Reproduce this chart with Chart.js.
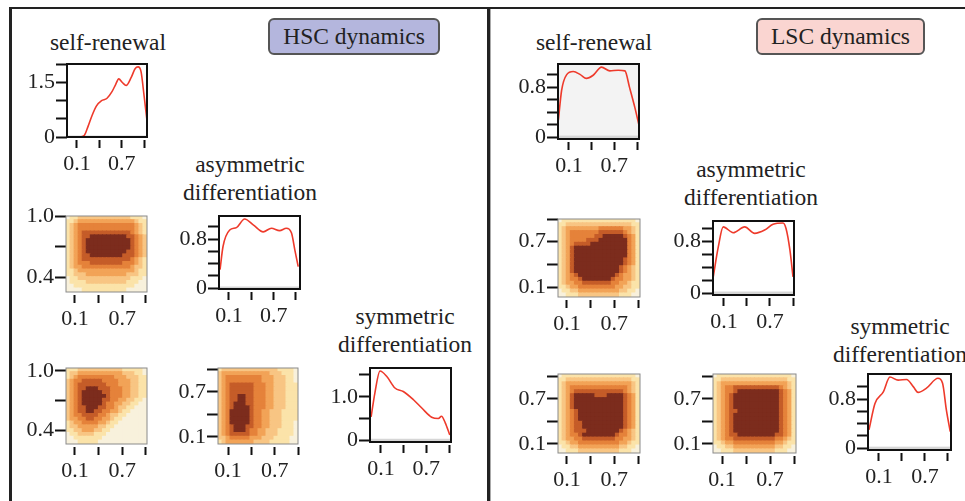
<!DOCTYPE html>
<html>
<head>
  <title>HSC / LSC dynamics</title>
  <script src="https://cdn.jsdelivr.net/npm/chart.js"></script>
  <style>
    body { margin: 0; background: #fff; }
    #page { position: relative; width: 965px; height: 501px; overflow: hidden; font-family: "Liberation Serif", "Times New Roman", serif; color: #222; }
    #page canvas { position: absolute; }
    .t { position: absolute; width: 240px; text-align: center; font-size: 23.5px; line-height: 28px; white-space: nowrap; }
    .tag { position: absolute; box-sizing: border-box; border: 2px solid #555; border-radius: 6px; font-size: 23.5px; text-align: center; line-height: 33px; }
    .rule { position: absolute; background: #222; }
  </style>
</head>
<body>
  <div id="page">
    <div class="rule" style="left:9px;top:7px;width:956px;height:2px"></div>
    <div class="rule" style="left:9px;top:7px;width:3px;height:494px"></div>
    <div class="rule" style="left:487px;top:7px;width:3px;height:494px"></div>
    <div class="rule" style="left:490px;top:9px;width:1px;height:492px;background:#aaa"></div>

    <div class="tag" style="left:268px;top:18px;width:172px;height:37px;background:#b4b6dd">HSC dynamics</div>
    <div class="tag" style="left:756px;top:18px;width:169px;height:37px;background:#fad5d1">LSC dynamics</div>

    <div class="t" style="left:-12px;top:28px">self-renewal</div>
    <div class="t" style="left:130px;top:150px">asymmetric<br>differentiation</div>
    <div class="t" style="left:285px;top:302px">symmetric<br>differentiation</div>
    <div class="t" style="left:474px;top:28px">self-renewal</div>
    <div class="t" style="left:631px;top:155px">asymmetric<br>differentiation</div>
    <div class="t" style="left:780px;top:312px">symmetric<br>differentiation</div>
  </div>

  <script>
    // density curves (diagonal panels)
    const hscSelfX = [0.14, 0.2, 0.25, 0.3, 0.36, 0.43, 0.5, 0.57, 0.62, 0.66, 0.71, 0.76, 0.83, 0.88, 0.92, 0.96, 1.0, 1.04];
    const hscSelfY = [0.0, 0.05, 0.3, 0.58, 0.85, 1.0, 1.06, 1.25, 1.45, 1.6, 1.5, 1.42, 1.65, 1.88, 1.93, 1.8, 1.15, 0.45];
    const hscAsymX = [-0.02, 0.02, 0.11, 0.2, 0.31, 0.43, 0.56, 0.67, 0.78, 0.87, 0.94, 0.985, 1.03];
    const hscAsymY = [0.3, 0.68, 0.95, 0.99, 1.13, 1.03, 0.92, 0.98, 0.94, 0.98, 0.9, 0.62, 0.35];
    const hscSymX = [-0.03, 0.02, 0.087, 0.175, 0.285, 0.395, 0.53, 0.64, 0.77, 0.86, 0.9, 0.95, 1.01];
    const hscSymY = [0.54, 1.09, 1.59, 1.47, 1.2, 1.12, 0.93, 0.74, 0.53, 0.5, 0.55, 0.4, 0.12];

    const lscSelfX = [-0.04, 0.003, 0.07, 0.157, 0.25, 0.33, 0.42, 0.53, 0.64, 0.75, 0.84, 0.9, 0.97, 1.026];
    const lscSelfY = [0.27, 0.75, 1.0, 1.05, 1.0, 0.94, 0.99, 1.12, 1.06, 1.07, 1.06, 0.8, 0.48, 0.19];
    const lscAsymX = [-0.04, 0.026, 0.09, 0.22, 0.37, 0.5, 0.63, 0.74, 0.87, 0.91, 0.96, 1.0];
    const lscAsymY = [0.25, 0.71, 1.02, 0.93, 1.02, 0.92, 0.97, 1.06, 1.08, 0.99, 0.66, 0.25];
    const lscSymX = [-0.03, 0.048, 0.157, 0.243, 0.35, 0.46, 0.55, 0.61, 0.72, 0.87, 0.93, 0.98, 1.03];
    const lscSymY = [0.3, 0.73, 0.92, 1.16, 1.11, 1.12, 1.0, 0.91, 0.98, 1.14, 1.06, 0.62, 0.27];

    // joint densities, contour level 0..6 per cell, top row first
    const hscSelfAsym = [
      "01122222222222221110",
      "11233333333333333211",
      "12344444444444444321",
      "12344444444444444321",
      "12345555555555554321",
      "12345566666666655432",
      "12345666666666665432",
      "12345666666666665432",
      "12345666666666665432",
      "12345666666666655432",
      "12345566666666555432",
      "12345555555555554321",
      "12344455555555444321",
      "12334444444444443221",
      "11233333333333333211",
      "11222333333333322211",
      "01122222222222221110",
      "01111222222222211100",
      "00111111111111111000",
      "00001111111111100000"
    ];
    const hscSelfSym = [
      "11122222222222111110",
      "12233333333333222110",
      "12344444444433322211",
      "23445555544443332211",
      "23455555554443332211",
      "23455666555444332211",
      "23456666655444332211",
      "23456666665444332211",
      "23456666655443322110",
      "23456666654433221100",
      "23455666554432211000",
      "23455665544332110000",
      "23445555443221100000",
      "23344554433211000000",
      "12334444332110000000",
      "12233333221100000000",
      "11223332211000000000",
      "01122221110000000000",
      "00111111100000000000",
      "00011111000000000000"
    ];
    const hscAsymSym = [
      "12222222222222211110",
      "23333333333332221110",
      "23444444444333222110",
      "23444444444333222110",
      "23455555544433222111",
      "23455555544433222111",
      "23455555544433222111",
      "23455665544433222111",
      "23455665544433222111",
      "23456665544433222111",
      "23456666544433222111",
      "23466666544332221111",
      "23466666544332221111",
      "23466666544332221111",
      "23466666544332221110",
      "23456665544332221110",
      "23456665443322211110",
      "23455555443322211110",
      "22344444333222111100",
      "12333333322221111100"
    ];
    const lscSelfAsym = [
      "01111111111111111110",
      "11222222222222222211",
      "12333333334444443321",
      "12344444445555554321",
      "12344444455666665431",
      "12344445556666666431",
      "12345555666666666431",
      "12356666666666666431",
      "12356666666666666431",
      "12356666666666666431",
      "12356666666666665431",
      "12356666666666665431",
      "12356666666666654321",
      "12356666666666654321",
      "12345666666666543321",
      "12344566666665443321",
      "12334455555554433211",
      "11233444444444332211",
      "01122333333333322110",
      "00111222222222211100"
    ];
    const lscSelfSym = [
      "01111111111111111110",
      "11222222222222222211",
      "12333333333333333321",
      "12344444444444444321",
      "12345555555555554321",
      "12356666655566665431",
      "12356666666666665431",
      "12356666666666665431",
      "12356666666666665431",
      "12345666666666665431",
      "12345666666666665431",
      "12345666666666665431",
      "12345566666666665431",
      "12345566666666665431",
      "12345556666666654321",
      "12344566666666544321",
      "12334455555555443321",
      "11233444444444433211",
      "01122333333333322110",
      "00111222222222211100"
    ];
    const lscAsymSym = [
      "01111111111111111110",
      "11222222222222222211",
      "12333333333333333321",
      "12344555555555554321",
      "12344566666666665431",
      "12345666666666665431",
      "12345666666666665431",
      "12345666666666665431",
      "12345666666666665431",
      "12345566666666665431",
      "12345666666666665431",
      "12345666666666665431",
      "12345666666666665431",
      "12345666666666665431",
      "12345666666666665431",
      "12345566666666655431",
      "12344555555555544321",
      "11233444444444433211",
      "01122333333333322110",
      "00111222222222211100"
    ];
    const levelColors = ['#f8f1dc', '#fbe3a9', '#f8c583', '#f2a357', '#e5823a', '#c55c28', '#7c2c1d'];

    // tick values and labels
    const xTickVals = [0.1, 0.4, 0.7, 1.0];
    const xTickLabels = ['0.1', '', '0.7', ''];
    const yTicksFine = [0, 0.2, 0.4, 0.6, 0.8, 1.0];
    const yLabelsFine = ['0', '', '', '', '0.8', ''];
    const yTicksSelfHsc = [0, 0.5, 1.0, 1.5, 2.0];
    const yLabelsSelfHsc = ['0', '', '', '1.5', ''];
    const yTicksSymHsc = [0, 0.5, 1.0, 1.5];
    const yLabelsSymHsc = ['0', '', '1.0', ''];
    const yTicksHigh = [0.4, 0.7, 1.0];
    const yLabelsHigh = ['0.4', '', '1.0'];
    const yTicksFull = [0.1, 0.4, 0.7, 1.0];
    const yLabelsFull = ['0.1', '', '0.7', ''];

    const plots = [
      { kind: 'line', box: [67, 64, 80, 73], x: [-0.034, 1.04], y: [0, 2.01], xs: hscSelfX, ys: hscSelfY, yt: yTicksSelfHsc, yl: yLabelsSelfHsc },
      { kind: 'heat', box: [66, 216, 81, 76], x: [-0.014, 1.013], y: [0.26, 1.0], grid: hscSelfAsym, yt: yTicksHigh, yl: yLabelsHigh },
      { kind: 'line', box: [219, 216, 81, 73], x: [-0.034, 1.054], y: [-0.016, 1.18], xs: hscAsymX, ys: hscAsymY, yt: yTicksFine, yl: yLabelsFine },
      { kind: 'heat', box: [66, 368, 81, 76], x: [-0.014, 1.013], y: [0.26, 1.03], grid: hscSelfSym, yt: yTicksHigh, yl: yLabelsHigh },
      { kind: 'heat', box: [218, 368, 80, 76], x: [-0.03, 1.0], y: [0.005, 1.02], grid: hscAsymSym, yt: yTicksFull, yl: yLabelsFull },
      { kind: 'line', box: [370, 368, 81, 74], x: [-0.045, 1.026], y: [-0.04, 1.66], xs: hscSymX, ys: hscSymY, yt: yTicksSymHsc, yl: yLabelsSymHsc },

      { kind: 'line', box: [558, 64, 81, 75], x: [-0.045, 1.026], y: [-0.03, 1.17], xs: lscSelfX, ys: lscSelfY, yt: yTicksFine, yl: yLabelsFine, fill: '#f3f3f3' },
      { kind: 'heat', box: [558, 219, 82, 78], x: [-0.014, 1.025], y: [-0.03, 1.0], grid: lscSelfAsym, yt: yTicksFull, yl: yLabelsFull },
      { kind: 'line', box: [713, 221, 81, 74], x: [-0.043, 1.013], y: [-0.03, 1.11], xs: lscAsymX, ys: lscAsymY, yt: yTicksFine, yl: yLabelsFine },
      { kind: 'heat', box: [558, 374, 82, 79], x: [-0.014, 1.025], y: [-0.02, 1.03], grid: lscSelfSym, yt: yTicksFull, yl: yLabelsFull },
      { kind: 'heat', box: [713, 374, 83, 79], x: [-0.0125, 1.025], y: [-0.02, 1.03], grid: lscAsymSym, yt: yTicksFull, yl: yLabelsFull },
      { kind: 'line', box: [868, 374, 83, 76], x: [-0.043, 1.04], y: [-0.03, 1.21], xs: lscSymX, ys: lscSymY, yt: yTicksFine, yl: yLabelsFine }
    ];

    Chart.defaults.font.family = '"Liberation Serif", "Times New Roman", serif';
    Chart.defaults.color = '#222';

    // frame of each small panel + grey zero band
    const boxPlugin = {
      id: 'box',
      beforeDatasetsDraw(chart, args, opts) {
        const a = chart.chartArea, ctx = chart.ctx;
        ctx.save();
        if (opts.fill) {
          ctx.fillStyle = opts.fill;
          ctx.fillRect(a.left, a.top, a.width, a.height);
        }
        if (opts.base) {
          const y0 = chart.scales.y.getPixelForValue(0);
          ctx.fillStyle = opts.base;
          ctx.fillRect(a.left, y0 - 1.5, a.width, a.bottom - y0 + 1.5);
        }
        ctx.restore();
      },
      afterDatasetsDraw(chart, args, opts) {
        const a = chart.chartArea, ctx = chart.ctx;
        ctx.save();
        ctx.strokeStyle = opts.color;
        ctx.lineWidth = opts.width;
        ctx.strokeRect(a.left, a.top, a.width, a.height);
        ctx.restore();
      }
    };

    const page = document.getElementById('page');
    // room around each box: y axis, top pad (must exceed half a label line), right pad, x axis
    const L = 60, T = 16, R = 6, B = 44;

    function addPlot(p) {
      const [bx, by, bw, bh] = p.box;
      const w = bw + L + R, h = bh + T + B;
      const cv = document.createElement('canvas');
      cv.width = w; cv.height = h;
      cv.style.left = (bx - L) + 'px';
      cv.style.top = (by - T) + 'px';
      cv.style.width = w + 'px';
      cv.style.height = h + 'px';
      page.appendChild(cv);

      let ds;
      if (p.kind === 'line') {
        ds = {
          data: p.xs.map((x, i) => ({ x: x, y: p.ys[i] })),
          showLine: true,
          borderColor: '#ee3a2b',
          borderWidth: 1.6,
          pointRadius: 0,
          cubicInterpolationMode: 'monotone',
          clip: 0
        };
      } else {
        const rows = p.grid.length, cols = p.grid[0].length;
        const dx = (p.x[1] - p.x[0]) / cols, dy = (p.y[1] - p.y[0]) / rows;
        const pts = [], colors = [];
        p.grid.forEach((row, r) => {
          for (let c = 0; c < cols; c++) {
            pts.push({ x: p.x[0] + (c + 0.5) * dx, y: p.y[1] - (r + 0.5) * dy });
            colors.push(levelColors[+row[c]]);
          }
        });
        ds = {
          data: pts,
          pointStyle: 'rect',
          pointBackgroundColor: colors,
          pointBorderWidth: 0,
          pointRadius: ctx => {
            const a = ctx.chart.chartArea;
            if (!a) return 3;
            return (Math.max(a.width / cols, a.height / rows) + 1) / Math.SQRT2;
          },
          clip: 0
        };
      }

      const tickFont = { size: 22 };
      new Chart(cv, {
        type: 'scatter',
        data: { datasets: [ds] },
        options: {
          responsive: false,
          animation: false,
          devicePixelRatio: 1,
          events: [],
          layout: { padding: { left: 0, top: T, right: R, bottom: 0 } },
          plugins: {
            legend: { display: false },
            tooltip: { enabled: false },
            box: p.kind === 'line'
              ? { color: '#111', width: 2, base: '#d6d6d6', fill: p.fill }
              : { color: '#8a8a8a', width: 1 }
          },
          scales: {
            x: {
              type: 'linear', min: p.x[0], max: p.x[1],
              afterBuildTicks: s => { s.ticks = xTickVals.map(v => ({ value: v })); },
              afterFit: s => { s.height = B; },
              ticks: { callback: (v, i) => xTickLabels[i], font: tickFont, padding: 3, maxRotation: 0, autoSkip: false },
              grid: { drawOnChartArea: false, tickLength: 11, tickWidth: 2, tickColor: '#111', tickBorderDash: [0, 3, 8, 40] },
              border: { display: false }
            },
            y: {
              type: 'linear', min: p.y[0], max: p.y[1],
              afterBuildTicks: s => { s.ticks = p.yt.map(v => ({ value: v })); },
              afterFit: s => { s.width = L; },
              ticks: { callback: (v, i) => p.yl[i], font: tickFont, padding: 1, autoSkip: false },
              grid: { drawOnChartArea: false, tickLength: 11, tickWidth: 2, tickColor: '#111' },
              border: { display: false }
            }
          }
        },
        plugins: [boxPlugin]
      });
    }

    plots.forEach(addPlot);
  </script>
</body>
</html>
